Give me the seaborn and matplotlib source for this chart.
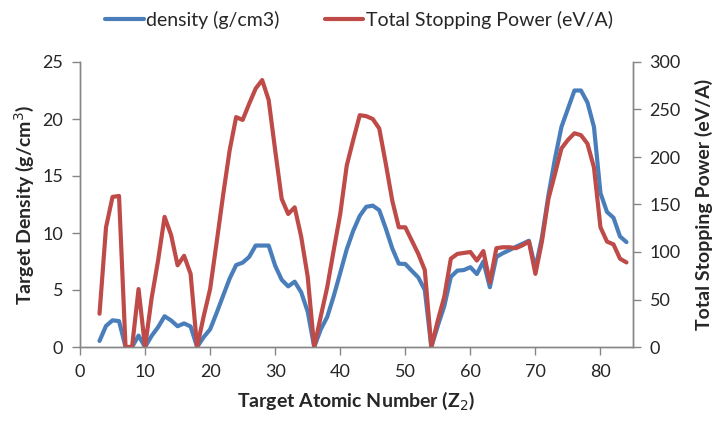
import matplotlib
matplotlib.use("Agg")
import matplotlib.pyplot as plt
import seaborn as sns
import pandas as pd

# Atomic number of the target element
atomic_number = list(range(3, 85))

# Target density in g/cm3 (gases shown as 0)
density = [
    0.53, 1.85, 2.34, 2.27, 0.0, 0.0, 1.0, 0.0,            # 3-10
    0.97, 1.74, 2.70, 2.33, 1.82, 2.07, 1.8, 0.0,          # 11-18
    0.86, 1.55, 2.99, 4.5, 6.0, 7.19, 7.4, 7.9,            # 19-26
    8.9, 8.9, 8.9, 7.13, 5.9, 5.32, 5.73, 4.8,             # 27-34
    3.1, 0.0, 1.53, 2.64, 4.47, 6.5, 8.57, 10.2,           # 35-42
    11.5, 12.3, 12.4, 12.0, 10.4, 8.65, 7.31, 7.28,        # 43-50
    6.68, 6.1, 5.0, 0.0, 1.87, 3.6, 6.15, 6.7,             # 51-58
    6.75, 7.0, 6.4, 7.5, 5.24, 7.9, 8.23, 8.5,             # 59-66
    8.79, 9.05, 9.32, 6.9, 9.6, 13.3, 16.5, 19.3,          # 67-74
    20.9, 22.5, 22.5, 21.45, 19.3, 13.5, 11.85, 11.34,     # 75-82
    9.7, 9.2,                                              # 83-84
]

# Total stopping power in eV/Angstrom
stopping_power = [
    35, 126, 158, 159, 0, 0, 61, 0,                        # 3-10
    51, 91, 137, 118, 86, 96, 77, 0,                       # 11-18
    32, 61, 110, 160, 207, 242, 239, 256,                  # 19-26
    272, 281, 260, 207, 156, 140, 147, 116,                # 27-34
    74, 0, 32, 63, 102, 140, 191, 218,                     # 35-42
    244, 243, 240, 230, 193, 154, 126, 126,                # 43-50
    112, 98, 81, 0, 28, 53, 93, 98,                        # 51-58
    99, 100, 91, 101, 68, 104, 105, 105,                   # 59-66
    104, 107, 111, 77, 111, 156, 182, 209,                 # 67-74
    218, 225, 223, 214, 189, 126, 111, 108,                # 75-82
    93, 89,                                                # 83-84
]

x_ticks = [0, 10, 20, 30, 40, 50, 60, 70, 80]
left_ticks = [0, 5, 10, 15, 20, 25]
right_ticks = [0, 50, 100, 150, 200, 250, 300]

df = pd.DataFrame({"Z": atomic_number, "density": density, "power": stopping_power})

sns.set_theme(style="white")
plt.rcParams["font.family"] = ["Lato", "DejaVu Sans"]

BLUE = "#4A7EBB"
RED = "#BE4B48"
GRAY = "#868686"
TEXT = "#262626"

fig = plt.figure(figsize=(7.18, 4.23), dpi=100)
ax = fig.add_axes([80 / 718, (423 - 347) / 423, (633 - 80) / 718, (347 - 62) / 423])
ax2 = ax.twinx()

sns.lineplot(data=df, x="Z", y="density", ax=ax, color=BLUE, linewidth=3.0,
             label="density (g/cm3)", legend=False)
sns.lineplot(data=df, x="Z", y="power", ax=ax2, color=RED, linewidth=3.0,
             label="Total Stopping Power (eV/A)", legend=False)

ax.set_xlim(0, 85)
ax.set_ylim(0, 25)
ax2.set_ylim(0, 300)
ax.set_xticks(x_ticks)
ax.set_yticks(left_ticks)
ax2.set_yticks(right_ticks)

for a in (ax, ax2):
    a.spines["top"].set_visible(False)
    for side in ("left", "right", "bottom"):
        a.spines[side].set_color(GRAY)
        a.spines[side].set_linewidth(1.0)
    a.tick_params(axis="both", which="major", direction="out", length=6,
                  width=1.0, color=GRAY, labelsize=13, labelcolor=TEXT, pad=6)
    a.grid(False)
ax.tick_params(axis="y", left=True)
ax.tick_params(axis="x", bottom=True)
ax2.tick_params(axis="y", right=True)

ax.set_xlabel("Target Atomic Number (Z$_2$)", fontsize=14, fontweight="bold",
              color=TEXT, labelpad=7)
ax.set_ylabel("Target Density (g/cm$^3$)", fontsize=14, fontweight="bold",
              color=TEXT, labelpad=5)
ax2.set_ylabel("Total Stopping Power (eV/A)", fontsize=14, fontweight="bold",
               color=TEXT, labelpad=10)

handles = ax.get_lines()[:1] + ax2.get_lines()[:1]
fig.legend(handles, [h.get_label() for h in handles], loc="upper center",
           bbox_to_anchor=(0.5, 1.015), ncol=2, frameon=False, fontsize=14,
           handlelength=2.0, handletextpad=0.15, columnspacing=2.3,
           labelcolor=TEXT)

fig.savefig("out.png", dpi=100)
